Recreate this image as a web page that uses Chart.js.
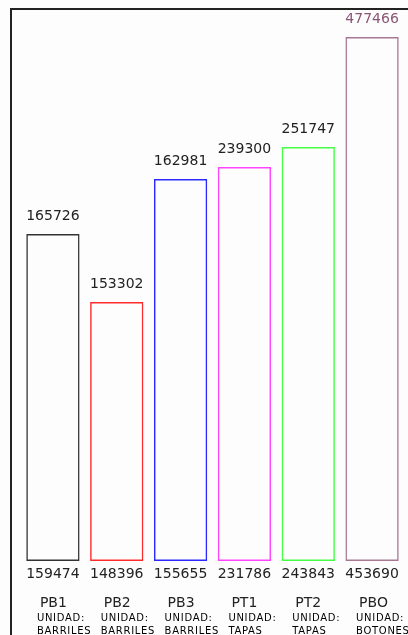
<!DOCTYPE html>
<html>
<head>
<meta charset="utf-8">
<script src="https://cdn.jsdelivr.net/npm/chart.js@4"></script>
<style>
    body { margin: 0; background: #fdfdfd; }
    canvas { display: block; }
</style>
</head>
<body>
<canvas id="chart" width="408" height="635"></canvas>
<script>
// categories and the two numbers printed on each bar
const codes = ['PB1', 'PB2', 'PB3', 'PT1', 'PT2', 'PBO'];
const units = ['BARRILES', 'BARRILES', 'BARRILES', 'TAPAS', 'TAPAS', 'BOTONES'];
const topValues = [165726, 153302, 162981, 239300, 251747, 477466];
const bottomValues = [159474, 148396, 155655, 231786, 243843, 453690];
// bar heights as drawn (relative)
const barHeights = [327, 259, 382, 394, 414, 524];
const barColors = ['#333333', '#ff2a2a', '#2a2aff', '#ff44ff', '#44ff44', '#a67894'];
const topLabelColors = ['#222', '#222', '#222', '#222', '#222', '#8a5577'];

const labelsPlugin = {
    id: 'labels',
    beforeDraw(chart) {
        const c = chart.ctx;
        c.save();
        c.fillStyle = '#fdfdfd';
        c.fillRect(0, 0, chart.width, chart.height);
        // frame
        c.strokeStyle = '#222';
        c.lineWidth = 2;
        c.beginPath();
        c.moveTo(11, chart.height);
        c.lineTo(11, 9);
        c.lineTo(chart.width, 9);
        c.stroke();
        c.restore();
    },
    afterDatasetsDraw(chart) {
        const c = chart.ctx;
        const meta = chart.getDatasetMeta(0);
        c.save();
        meta.data.forEach((bar, i) => {
            c.textAlign = 'center';
            c.textBaseline = 'alphabetic';
            c.font = '14px "DejaVu Sans"';
            c.fillStyle = topLabelColors[i];
            c.fillText(topValues[i], bar.x, bar.y - 14);
            c.fillStyle = '#222';
            c.fillText(bottomValues[i], bar.x, bar.base + 17);

            const left = bar.x - 16;
            c.textAlign = 'left';
            c.fillText(codes[i], left + 3, bar.base + 46);
            c.fillStyle = '#000';
            c.font = '10px "DejaVu Sans"';
            c.letterSpacing = '0.7px';
            c.fillText('UNIDAD:', left, bar.base + 60);
            c.fillText(units[i], left, bar.base + 73);
            c.letterSpacing = '0px';
        });
        c.restore();
    }
};

const ctx = document.getElementById('chart').getContext('2d');

const chart = new Chart(ctx, {
    type: 'bar',
    data: {
        labels: codes,
        datasets: [{
            data: barHeights,
            borderColor: barColors,
            backgroundColor: 'rgba(0,0,0,0)',
            borderWidth: 1.5,
            borderSkipped: false,
            barPercentage: 0.835,
            categoryPercentage: 1
        }]
    },
    options: {
        responsive: false,
        animation: false,
        layout: {
            padding: { left: 21, right: 4, top: 11, bottom: 74 }
        },
        plugins: {
            legend: { display: false },
            tooltip: { enabled: false }
        },
        scales: {
            x: { display: false },
            y: { display: false, min: 0, max: 550 }
        }
    },
    plugins: [labelsPlugin]
});
</script>
</body>
</html>
